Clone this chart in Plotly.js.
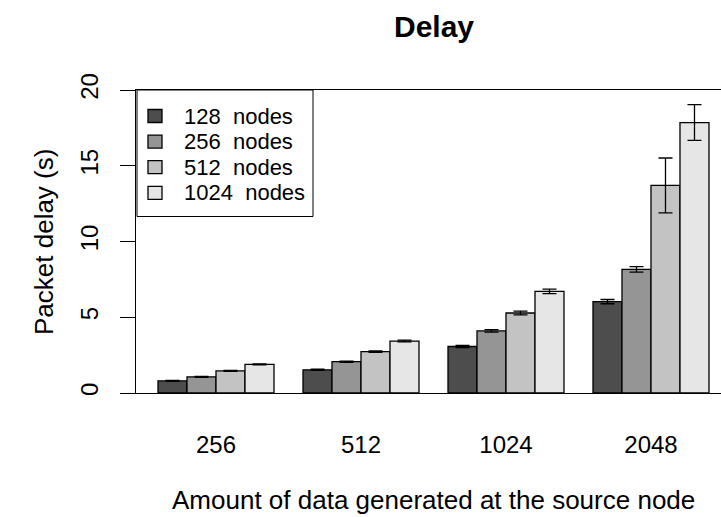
<!DOCTYPE html>
<html>
<head>
<meta charset="utf-8">
<script src="https://cdn.plot.ly/plotly-3.0.1.min.js"></script>
<style>html,body{margin:0;padding:0;background:#fff;}#chart{width:721px;height:517px;}</style>
</head>
<body>
<div id="chart"></div>
<script>
// Data
const categories = ['256', '512', '1024', '2048'];
const seriesNames = ['128\u00a0 nodes', '256\u00a0 nodes', '512\u00a0 nodes', '1024\u00a0 nodes'];
const delay128 = [0.80, 1.53, 3.07, 6.03];
const delay256 = [1.07, 2.07, 4.10, 8.16];
const delay512 = [1.46, 2.73, 5.28, 13.70];
const delay1024 = [1.89, 3.43, 6.71, 17.85];
const err128 = [0.03, 0.04, 0.08, 0.14];
const err256 = [0.03, 0.04, 0.08, 0.18];
const err512 = [0.03, 0.05, 0.12, 1.81];
const err1024 = [0.03, 0.06, 0.15, 1.18];
const yTicks = [0, 5, 10, 15, 20];

const colors = ['#4D4D4D', '#959595', '#C3C3C3', '#E6E6E6'];
const values = [delay128, delay256, delay512, delay1024];
const errs = [err128, err256, err512, err1024];
const FONT = 'Liberation Sans, Arial, Helvetica, sans-serif';

// plot area geometry (px)
const W = 721, H = 517, ML = 136, MR = 0, MT = 90, MB = 124;
const PW = W - ML - MR, PH = H - MT - MB;
const px2x = p => (p - ML) / PW;
const px2y = p => (H - MB - p) / PH;

const traces = values.map((v, i) => ({
  type: 'bar',
  name: seriesNames[i],
  x: categories,
  y: v,
  marker: {color: colors[i], line: {color: '#000', width: 1.3}},
  error_y: {type: 'data', array: errs[i], visible: true, color: '#000', thickness: 1.3, width: 7}
}));

// Legend drawn as box + swatches + labels (R style)
const shapes = [{type: 'rect', xref: 'paper', yref: 'paper', x0: px2x(137), x1: px2x(313),
                 y0: px2y(216.5), y1: px2y(90), line: {color: '#000', width: 1}, fillcolor: '#fff', layer: 'above'}];
const annotations = [];
seriesNames.forEach((n, i) => {
  const cy = 116 + i * 25.6;
  shapes.push({type: 'rect', xref: 'paper', yref: 'paper', x0: px2x(148), x1: px2x(162),
               y0: px2y(cy + 6.5), y1: px2y(cy - 6.5), line: {color: '#000', width: 1.3}, fillcolor: colors[i], layer: 'above'});
  annotations.push({xref: 'paper', yref: 'paper', x: px2x(182), y: px2y(cy), xanchor: 'left', yanchor: 'middle',
                    text: n, showarrow: false, font: {family: FONT, size: 22, color: '#000'}});
});
// axis titles
annotations.push({xref: 'paper', yref: 'paper', x: px2x(433.5), y: px2y(483), xanchor: 'center', yanchor: 'top',
                  text: 'Amount of data generated at the source node', showarrow: false,
                  font: {family: FONT, size: 26, color: '#000'}});
annotations.push({xref: 'paper', yref: 'paper', x: px2x(44), y: px2y(242), xanchor: 'center', yanchor: 'middle',
                  textangle: -90, text: 'Packet delay (s)', showarrow: false,
                  font: {family: FONT, size: 26, color: '#000'}});

const layout = {
  width: W, height: H,
  margin: {l: ML, r: MR, t: MT, b: MB, pad: 0},
  paper_bgcolor: '#fff', plot_bgcolor: '#fff',
  font: {family: FONT, color: '#000', size: 24},
  title: {text: '<b>Delay</b>', font: {family: FONT, size: 30, color: '#000'},
          x: 434 / W, xanchor: 'center', xref: 'container',
          y: 1 - 26 / H, yanchor: 'middle', yref: 'container'},
  barmode: 'group', bargap: 0.2, bargroupgap: 0,
  showlegend: false,
  shapes: shapes,
  annotations: annotations,
  xaxis: {type: 'category', range: [-0.5517, 3.4828], showline: true, mirror: true,
          linecolor: '#000', linewidth: 1, ticks: '', showgrid: false, zeroline: false,
          tickfont: {family: FONT, size: 24, color: '#000'}, ticklabelstandoff: 30},
  yaxis: {range: [0, 20], tickvals: yTicks, ticktext: yTicks.map(String), ticks: 'outside', ticklen: 15,
          tickcolor: '#000', tickwidth: 1, tickangle: -90, showline: true, linecolor: '#000', linewidth: 1,
          showgrid: false, zeroline: false, tickfont: {family: FONT, size: 24, color: '#000'}, ticklabelstandoff: 12}
};

Plotly.newPlot('chart', traces, layout, {staticPlot: true, displayModeBar: false});
</script>
</body>
</html>
